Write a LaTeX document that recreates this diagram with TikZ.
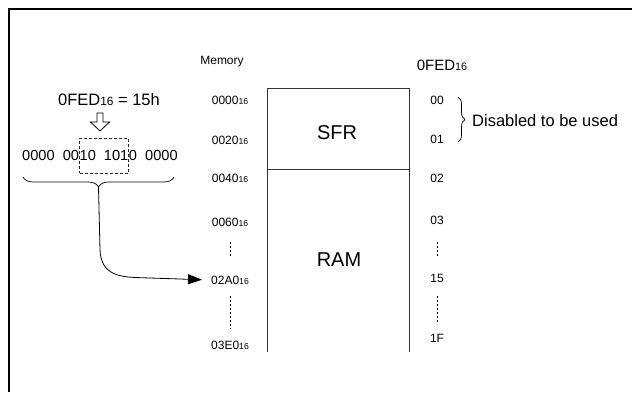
\documentclass[tikz,border=0pt]{standalone}
\usepackage{fontspec}
\setmainfont{Liberation Sans}
\usetikzlibrary{arrows.meta,positioning,decorations.pathreplacing}
\newcommand{\hs}[1]{\scalebox{0.72}{#1}}

\begin{document}
\begin{tikzpicture}[x=1pt,y=-1pt,
    addr/.style={font=\fontsize{12}{14}\selectfont,inner sep=1pt},
    big/.style={font=\fontsize{16.5}{19}\selectfont,inner sep=1pt},
    bits/.style={font=\fontsize{14.6}{17}\selectfont,inner xsep=0pt,inner ysep=1pt},
    region/.style={font=\fontsize{20}{24}\selectfont},
    memline/.style={draw=black!80,line width=0.9pt},
    dots/.style={dash pattern=on 2pt off 2pt,line width=0.7pt},
    selbox/.style={draw=black!85,dash pattern=on 3pt off 2pt,line width=0.8pt},
    link/.style={-{Triangle[length=14pt,width=10pt]},line width=0.8pt},
    frameline/.style={line width=2pt}]
    \useasboundingbox (0,0) rectangle (632,392);
    \draw[frameline] (632,9) -- (8.5,9) -- (8.5,392);
    % memory map
    \draw[memline] (267,352) -- (267,88) -- (409,88) -- (409,352);
    \draw[memline] (267,169) -- (409,169);
    \node[region] (sfr) at (337,133) {SFR};
    \node[region] (ram) at (339,260) {RAM};
    \node[addr] (mem) at (222,62) {Memory};
    \node[addr,font=\fontsize{15}{17}\selectfont] (fed) at (442,65) {0FED\hs{16}};
    % addresses
    \node[addr] (a0000) at (230,100) {0000\hs{16}};
    \node[addr] (a0020) at (230,140) {0020\hs{16}};
    \node[addr] (a0040) at (230,178) {0040\hs{16}};
    \node[addr] (a0060) at (230,222) {0060\hs{16}};
    \node[addr] (a02A0) at (230,280) {02A0\hs{16}};
    \node[addr] (a03E0) at (230,345) {03E0\hs{16}};
    \draw[dots,shorten <=15pt,shorten >=17pt] (a0060) -- (a02A0);
    \draw[dots,shorten <=11pt,shorten >=11pt] (a02A0) -- (a03E0);
    % bank numbers
    \node[addr] (b00) at (437,100) {00};
    \node[addr] (b01) at (437,139) {01};
    \node[addr] (b02) at (437,178) {02};
    \node[addr] (b03) at (437,220) {03};
    \node[addr] (b15) at (437,278) {15};
    \node[addr] (b1F) at (437,338) {1F};
    \draw[dots,shorten <=17pt,shorten >=15pt] (b03) -- (b15);
    \draw[dots,shorten <=13pt,shorten >=10pt] (b15) -- (b1F);
    \draw[decorate,decoration={brace,amplitude=7pt},line width=0.7pt] (458,97) -- (458,142);
    \node[big,anchor=west] (dis) at (471,121) {Disabled to be used};
    % register value
    \node[big] (val) at (109,100) {0FED\hs{16} = 15h};
    \draw[line width=0.8pt] (97,113) -- (103,113) -- (103,122) -- (109.5,122) -- (100,131)
      -- (90.5,122) -- (97,122) -- cycle;
    \node[bits,selbox,minimum height=35pt] (mid) at (104,155.5) {10\ \ 101};
    \node[bits,anchor=east] (lft) at (mid.west) {0000\ \ 00};
    \node[bits,anchor=west] (rgt) at (mid.east) {0\ \ 0000};
    \draw[decorate,decoration={brace,amplitude=10pt},line width=0.7pt] (174,177) -- (23,177);
    \coordinate (tip) at (98.5,187);
    \draw[link,shorten >=8pt] (tip) -- (100,250) .. controls (101,272) and (115,276.5) .. (135,277.5) -- (a02A0.west);
\end{tikzpicture}
\end{document}
